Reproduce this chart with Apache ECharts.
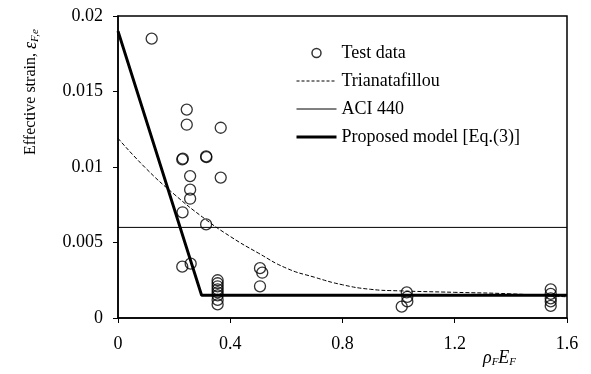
<!DOCTYPE html>
<html>
<head>
<meta charset="utf-8">
<script src="https://cdn.jsdelivr.net/npm/echarts@6/dist/echarts.min.js"></script>
<style>
  html, body { margin: 0; padding: 0; background: #fff; }
  #chart { width: 591px; height: 374px; }
</style>
</head>
<body>
<div id="chart"></div>
<script>
// test data (rhoF*EF, effective strain)
var testX = [0.12, 0.245, 0.245, 0.366, 0.229, 0.231, 0.314, 0.315, 0.257, 0.366,
  0.257, 0.257, 0.23, 0.314, 0.229, 0.259,
  0.355, 0.355, 0.355, 0.355, 0.355, 0.355, 0.355, 0.355,
  0.506, 0.514, 0.506,
  1.029, 1.031, 1.031, 1.011,
  1.542, 1.542, 1.542, 1.542, 1.542];
var testY = [0.0185, 0.0138, 0.0128, 0.0126, 0.0105, 0.01055, 0.0107, 0.01065, 0.0094, 0.0093,
  0.0085, 0.0079, 0.0070, 0.0062, 0.0034, 0.0036,
  0.0025, 0.0023, 0.0021, 0.0019, 0.0017, 0.0015, 0.0012, 0.0009,
  0.0033, 0.0030, 0.0021,
  0.0017, 0.0014, 0.0011, 0.00075,
  0.0019, 0.0016, 0.0013, 0.0011, 0.0008];

// Trianatafillou curve
var triX = [0, 0.1, 0.2, 0.3, 0.4, 0.5, 0.6, 0.7, 0.8, 0.9, 1.0, 1.2, 1.4, 1.6];
var triY = [0.0119, 0.0099, 0.0082, 0.0067, 0.0054, 0.0043, 0.0033, 0.0027, 0.0022, 0.0019, 0.0018, 0.0017, 0.0016, 0.0014];

// ACI 440
var aciX = [0, 1.6];
var aciY = [0.006, 0.006];

// proposed model
var propX = [0, 0.298, 1.6];
var propY = [0.019, 0.0015, 0.0015];

var xTicks = ['0', '0.4', '0.8', '1.2', '1.6'];
var yTicks = ['0', '0.005', '0.01', '0.015', '0.02'];

function pairs(xs, ys) {
  var out = [];
  for (var i = 0; i < xs.length; i++) {
    out.push([xs[i], ys[i]]);
  }
  return out;
}

var font = 'Liberation Serif';
var noMarker = { opacity: 0 };

var option = {
  animation: false,
  textStyle: { fontFamily: font, color: '#000' },
  grid: {
    left: 118, right: 24, top: 16, bottom: 56,
    show: true, borderColor: '#000', borderWidth: 1.5
  },
  legend: {
    orient: 'vertical',
    left: 290,
    top: 39,
    itemWidth: 40,
    itemHeight: 9,
    itemGap: 10,
    textStyle: { fontFamily: font, fontSize: 18, color: '#000' },
    data: [
      { name: 'Test data', icon: 'circle', itemStyle: { color: 'rgba(0,0,0,0)', borderColor: '#000', borderWidth: 1.5 } },
      { name: 'Trianatafillou', itemStyle: noMarker, lineStyle: { width: 1, type: [3, 2] } },
      { name: 'ACI 440', itemStyle: noMarker, lineStyle: { width: 1 } },
      { name: 'Proposed model [Eq.(3)]', itemStyle: noMarker, lineStyle: { width: 3 } }
    ]
  },
  xAxis: {
    type: 'value',
    min: 0, max: 1.6, interval: 0.4,
    axisLine: { lineStyle: { color: '#000', width: 1.5 } },
    axisTick: { show: true, length: 5, lineStyle: { color: '#000' } },
    splitLine: { show: false },
    axisLabel: {
      color: '#000', fontSize: 18, fontFamily: font, margin: 17,
      formatter: function (v) { return xTicks[Math.round(v / 0.4)]; }
    }
  },
  yAxis: {
    type: 'value',
    min: 0, max: 0.02, interval: 0.005,
    axisLine: { show: true, lineStyle: { color: '#000', width: 1.5 } },
    axisTick: { show: true, length: 5, lineStyle: { color: '#000' } },
    splitLine: { show: false },
    axisLabel: {
      color: '#000', fontSize: 18, fontFamily: font, margin: 15,
      formatter: function (v) { return yTicks[Math.round(v / 0.005)]; }
    }
  },
  graphic: [{
    type: 'text',
    x: 31,
    y: 92,
    rotation: Math.PI / 2,
    style: {
      text: '{t|Effective strain, }{e|ε}{s|F,e}',
      align: 'center',
      verticalAlign: 'middle',
      rich: {
        t: { fontFamily: font, fontSize: 16, fill: '#000' },
        e: { fontFamily: font, fontSize: 18, fontStyle: 'italic', fill: '#000' },
        s: { fontFamily: font, fontSize: 11, fontStyle: 'italic', fill: '#000', padding: [8, 0, 0, 0] }
      }
    }
  }, {
    type: 'text',
    left: 483,
    top: 349,
    style: {
      text: '{v|ρ}{s|F}{v|E}{s|F}',
      rich: {
        v: { fontFamily: font, fontSize: 18, fontStyle: 'italic', fill: '#000' },
        s: { fontFamily: font, fontSize: 11, fontStyle: 'italic', fill: '#000', padding: [8, 0, 0, 0] }
      }
    }
  }],
  series: [
    {
      name: 'Test data',
      type: 'scatter',
      symbol: 'circle',
      symbolSize: 11,
      itemStyle: { color: 'rgba(0,0,0,0)', borderColor: '#000', borderWidth: 1.3 },
      z: 5,
      data: pairs(testX, testY)
    },
    {
      name: 'Trianatafillou',
      type: 'line',
      smooth: true,
      symbol: 'none',
      lineStyle: { color: '#000', width: 1, type: [4, 2] },
      itemStyle: { color: '#000' },
      data: pairs(triX, triY)
    },
    {
      name: 'ACI 440',
      type: 'line',
      symbol: 'none',
      lineStyle: { color: '#000', width: 1 },
      itemStyle: { color: '#000' },
      data: pairs(aciX, aciY)
    },
    {
      name: 'Proposed model [Eq.(3)]',
      type: 'line',
      symbol: 'none',
      lineStyle: { color: '#000', width: 3 },
      itemStyle: { color: '#000' },
      data: pairs(propX, propY)
    }
  ]
};

var myChart = echarts.init(document.getElementById('chart'));
myChart.setOption(option);
</script>
</body>
</html>
